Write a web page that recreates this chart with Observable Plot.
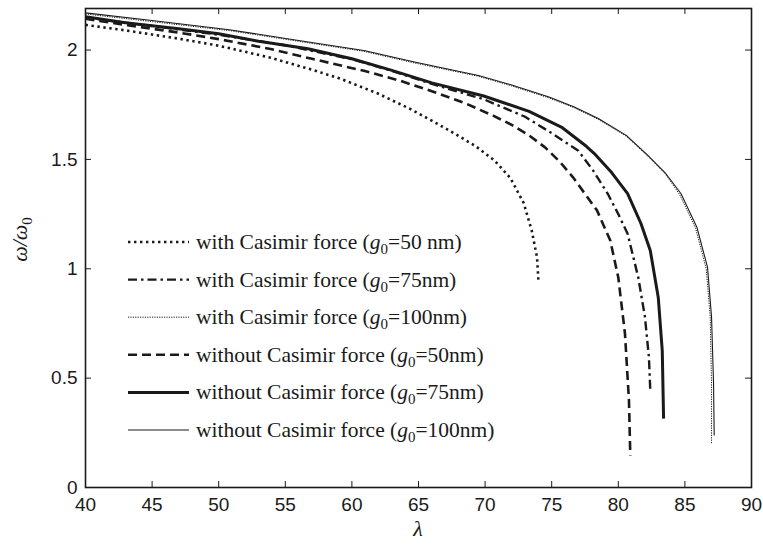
<!DOCTYPE html>
<html><head><meta charset="utf-8">
<script src="https://cdn.jsdelivr.net/npm/d3@7"></script>
<script src="https://cdn.jsdelivr.net/npm/@observablehq/plot@0.6"></script>
<style>
html,body{margin:0;padding:0;background:#fff;}
#chart svg{display:block;}
</style></head><body><div id="chart"></div>
<script>
// ---- axis ticks ----
const xTicks = [40, 45, 50, 55, 60, 65, 70, 75, 80, 85, 90];
const yTicks = [0, 0.5, 1, 1.5, 2];
const yTickLabels = ["0", "0.5", "1", "1.5", "2"];
const xLabel = "λ";

// ---- series (λ, ω/ω0) ----
const lamWith50 = [40, 43, 47, 50, 53.9, 57, 59.1, 62, 64.4, 66, 67.8, 69.3, 70.7, 71.9, 72.9, 73.5, 73.9, 74.0];
const omWith50  = [2.115, 2.09, 2.052, 2.02, 1.965, 1.91, 1.87, 1.80, 1.73, 1.677, 1.615, 1.56, 1.495, 1.415, 1.30, 1.175, 1.052, 0.95];

const lamWith75 = [40, 45, 50, 55, 60, 63, 66, 69.9, 73, 75, 77.0, 78.1, 79.2, 80.0, 80.7, 81.5, 82.0, 82.3, 82.4];
const omWith75  = [2.148, 2.11, 2.07, 2.022, 1.958, 1.905, 1.845, 1.775, 1.695, 1.62, 1.54, 1.45, 1.344, 1.25, 1.16, 0.96, 0.78, 0.595, 0.445];

const lamWith100 = [40, 45, 50.8, 56, 60.9, 64.7, 69.5, 72, 74.8, 76.7, 78.5, 80.6, 82.2, 83.5, 84.6, 85.8, 86.6, 86.9, 87.0, 87.0];
const omWith100  = [2.165, 2.13, 2.089, 2.04, 1.994, 1.941, 1.88, 1.836, 1.781, 1.736, 1.683, 1.606, 1.516, 1.436, 1.34, 1.186, 1.0, 0.78, 0.475, 0.20];

const lamWithout50 = [40, 43, 47, 50, 53.9, 57, 60.9, 63.5, 66, 68.5, 70.6, 72, 73.3, 74.5, 75.6, 76.6, 78.4, 79.4, 80.0, 80.5, 80.8, 80.9];
const omWithout50  = [2.143, 2.115, 2.08, 2.05, 2.005, 1.96, 1.905, 1.862, 1.812, 1.757, 1.70, 1.658, 1.61, 1.555, 1.49, 1.418, 1.267, 1.129, 0.96, 0.704, 0.398, 0.146];

const lamWithout75 = [40, 43, 47, 50, 53, 56.7, 60, 63, 66, 69.9, 73.3, 75.8, 77.6, 78.2, 79.5, 80.7, 81.7, 82.4, 83.0, 83.3, 83.4];
const omWithout75  = [2.152, 2.125, 2.097, 2.075, 2.04, 2.006, 1.96, 1.907, 1.85, 1.79, 1.72, 1.645, 1.56, 1.527, 1.44, 1.344, 1.207, 1.084, 0.869, 0.626, 0.315];

const lamWithout100 = [40, 45, 50.8, 56, 60.9, 64.7, 69.5, 72, 74.8, 76.7, 78.5, 80.6, 82.2, 83.5, 84.7, 85.9, 86.7, 87.0, 87.15, 87.2];
const omWithout100  = [2.17, 2.135, 2.093, 2.044, 1.998, 1.945, 1.884, 1.84, 1.785, 1.74, 1.687, 1.61, 1.52, 1.44, 1.344, 1.19, 1.006, 0.78, 0.475, 0.238];

// ---- legend text ----
const legendPrefix = ["with Casimir force (", "with Casimir force (", "with Casimir force (",
                      "without Casimir force (", "without Casimir force (", "without Casimir force ("];
const legendSuffix = ["=50 nm)", "=75nm)", "=100nm)", "=50nm)", "=75nm)", "=100nm)"];

const seriesLam = [lamWith50, lamWith75, lamWith100, lamWithout50, lamWithout75, lamWithout100];
const seriesOm  = [omWith50, omWith75, omWith100, omWithout50, omWithout75, omWithout100];
const styles = [
  {strokeWidth: 2.6, strokeDasharray: "2.4,3.6"},
  {strokeWidth: 2.4, strokeDasharray: "9,4,2.5,4"},
  {strokeWidth: 1, strokeDasharray: "1.2,1.2"},
  {strokeWidth: 2.6, strokeDasharray: "9,5"},
  {strokeWidth: 3, strokeDasharray: null},
  {strokeWidth: 1.1, strokeDasharray: null}
];

const W = 763, H = 552;
const mL = 85, mR = 12, mT = 8, mB = 65;
const plotW = W - mL - mR, plotH = H - mT - mB;
const ink = "#1a1a1a";

const lineMarks = seriesLam.map((lam, s) => {
  const rows = lam.map((l, i) => ({lambda: l, omega: seriesOm[s][i]}));
  return Plot.line(rows, {x: "lambda", y: "omega", stroke: ink, strokeLinejoin: "round", strokeLinecap: "butt", ...styles[s]});
});

const chart = Plot.plot({
  width: W, height: H,
  marginLeft: mL, marginRight: mR, marginTop: mT, marginBottom: mB,
  style: {fontFamily: "'Liberation Sans', Arial, sans-serif", fontSize: "19px", color: ink, background: "#fff"},
  x: {domain: [40, 90]},
  y: {domain: [0, 2.19]},
  marks: [
    ...lineMarks,
    Plot.ruleX(xTicks, {x: d => d, insetTop: plotH - 6, stroke: ink, strokeWidth: 1}),
    Plot.ruleX(xTicks, {x: d => d, insetBottom: plotH - 6, stroke: ink, strokeWidth: 1}),
    Plot.ruleY(yTicks, {y: d => d, insetRight: plotW - 6, stroke: ink, strokeWidth: 1}),
    Plot.ruleY(yTicks, {y: d => d, insetLeft: plotW - 6, stroke: ink, strokeWidth: 1}),
    Plot.frame({stroke: ink, strokeWidth: 1.6}),
    Plot.axisX({ticks: xTicks, tickSize: 0, tickPadding: 10, label: null, fontSize: 19, tickFormat: d => String(d)}),
    Plot.axisY({ticks: yTicks, tickSize: 0, tickPadding: 8, label: null, fontSize: 19, tickFormat: d => yTickLabels[yTicks.indexOf(d)]})
  ]
});

document.getElementById("chart").appendChild(chart);

// ---- axis titles and legend (text with italic / subscript parts) ----
const svg = d3.select(chart);
const serif = "'Liberation Serif', 'Times New Roman', serif";

svg.append("text")
  .attr("x", mL + plotW / 2).attr("y", 536)
  .attr("text-anchor", "middle").attr("font-family", serif)
  .attr("font-style", "italic").attr("font-size", 22).attr("fill", ink)
  .text(xLabel);

const yl = svg.append("text")
  .attr("transform", `translate(27,${mT + plotH / 2 - 8}) rotate(-90)`)
  .attr("text-anchor", "middle").attr("font-family", serif)
  .attr("font-size", 22).attr("fill", ink);
yl.append("tspan").attr("font-style", "italic").text("ω/ω");
yl.append("tspan").attr("font-size", 15).attr("dy", 5).text("0");

const leg = svg.append("g");
const rowY0 = 242, rowStep = 37.6, lineX1 = 128, lineX2 = 189, textX = 196;
seriesLam.forEach((_, s) => {
  const y = rowY0 + s * rowStep;
  const st = styles[s];
  leg.append("line").attr("x1", lineX1).attr("x2", lineX2).attr("y1", y).attr("y2", y)
    .attr("stroke", ink).attr("stroke-width", st.strokeWidth)
    .attr("stroke-dasharray", st.strokeDasharray);
  const t = leg.append("text").attr("x", textX).attr("y", y + 7)
    .attr("text-anchor", "start")
    .attr("font-family", serif).attr("font-size", 21.5).attr("fill", ink);
  t.append("tspan").text(legendPrefix[s]);
  t.append("tspan").attr("font-style", "italic").text("g");
  t.append("tspan").attr("font-size", 15).attr("dy", 5).text("0");
  t.append("tspan").attr("dy", -5).text(legendSuffix[s]);
});
</script>
</body></html>
